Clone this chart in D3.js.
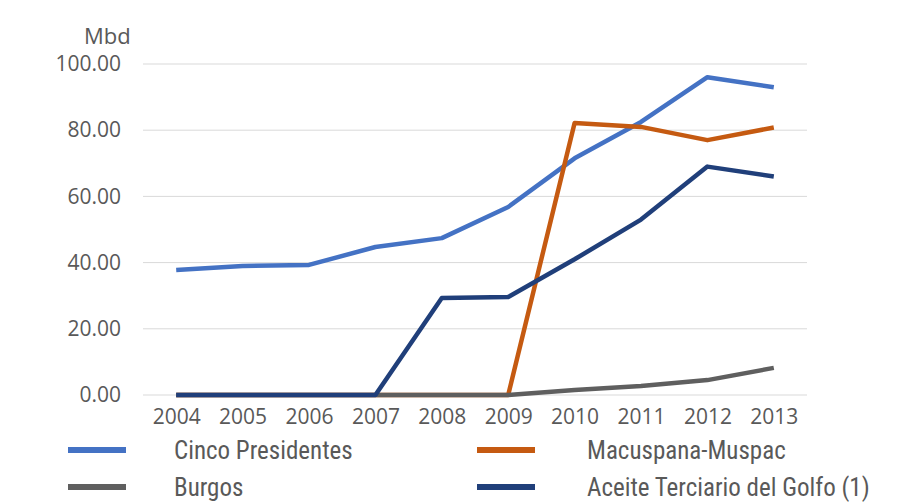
<!DOCTYPE html>
<html>
<head>
<meta charset="utf-8">
<script src="https://cdn.jsdelivr.net/npm/d3@7"></script>
<style>
  body { margin: 0; background: #fff; }
  text { fill: #595959; }
</style>
</head>
<body>
<div id="canvas"></div>
<script>
"use strict";

/* Data */
let years = ["2004", "2005", "2006", "2007", "2008", "2009", "2010", "2011", "2012", "2013"];
let cincoPresidentes = [37.8, 39.0, 39.3, 44.7, 47.4, 56.8, 71.5, 82.5, 96.0, 93.0];
let macuspanaMuspac = [0, 0, 0, 0, 0, 0, 82.2, 81.0, 77.0, 80.8];
let burgos = [0, 0, 0, 0, 0, 0, 1.5, 2.7, 4.5, 8.2];
let aceiteTerciario = [0, 0, 0, 0, 29.3, 29.6, 41.0, 53.0, 69.0, 66.0];
let yTicks = [0, 20, 40, 60, 80, 100];

let seriesNames = ["Cinco Presidentes", "Macuspana-Muspac", "Burgos", "Aceite Terciario del Golfo (1)"];
let seriesValues = [cincoPresidentes, macuspanaMuspac, burgos, aceiteTerciario];
let seriesColors = ["#4472C4", "#C55A11", "#5f5f5f", "#203f7a"];

/* Drawing config */
let svgWidth = 909;
let svgHeight = 504;
let plotLeft = 143;
let plotRight = 807;
let plotTop = 64;
let plotBottom = 395;

let svg = d3.select("#canvas")
  .append("svg")
  .attr("width", svgWidth)
  .attr("height", svgHeight);

let xScale = d3.scalePoint()
  .domain(years)
  .range([plotLeft, plotRight])
  .padding(0.5);

let yScale = d3.scaleLinear()
  .domain([0, 100])
  .range([plotBottom, plotTop]);

/* Gridlines */
svg.append("g")
  .selectAll("line")
  .data(yTicks)
  .enter()
  .append("line")
  .attr("x1", plotLeft)
  .attr("x2", plotRight)
  .attr("y1", function (d) { return yScale(d); })
  .attr("y2", function (d) { return yScale(d); })
  .attr("stroke", "#d9d9d9")
  .attr("stroke-width", 1);

/* Y axis labels */
let yAxis = d3.axisLeft(yScale)
  .tickValues(yTicks)
  .tickSize(0)
  .tickPadding(0)
  .tickFormat(d3.format(".2f"));

let yAxisG = svg.append("g")
  .attr("transform", "translate(121,0)")
  .call(yAxis);
yAxisG.select(".domain").remove();
yAxisG.selectAll("text")
  .attr("font-family", "'Open Sans', sans-serif")
  .attr("font-size", "21px")
  .attr("fill", "#595959");

/* X axis labels */
let xAxis = d3.axisBottom(xScale)
  .tickSize(0)
  .tickPadding(14);

let xAxisG = svg.append("g")
  .attr("transform", "translate(0," + plotBottom + ")")
  .call(xAxis);
xAxisG.select(".domain").remove();
xAxisG.selectAll("text")
  .attr("font-family", "'Open Sans', sans-serif")
  .attr("font-size", "21px")
  .attr("fill", "#595959");

/* Unit label */
svg.append("text")
  .attr("x", 84)
  .attr("y", 44)
  .attr("font-family", "'Open Sans', sans-serif")
  .attr("font-size", "22px")
  .text("Mbd");

/* Lines */
let line = d3.line()
  .x(function (d, i) { return xScale(years[i]); })
  .y(function (d) { return yScale(d); });

for (let i = 0; i < seriesValues.length; i = i + 1) {
  svg.append("path")
    .datum(seriesValues[i])
    .attr("d", line)
    .attr("fill", "none")
    .attr("stroke", seriesColors[i])
    .attr("stroke-width", 4.5)
    .attr("stroke-linejoin", "round");
}

/* Legend */
let legendCols = [68, 477];
let legendText = [174, 587];
let legendRows = [450, 487];

for (let i = 0; i < seriesNames.length; i = i + 1) {
  let col = i % 2;
  let ly = legendRows[Math.floor(i / 2)];

  svg.append("line")
    .attr("x1", legendCols[col])
    .attr("x2", legendCols[col] + 58)
    .attr("y1", ly)
    .attr("y2", ly)
    .attr("stroke", seriesColors[i])
    .attr("stroke-width", 6);

  svg.append("text")
    .attr("x", legendText[col])
    .attr("y", ly)
    .attr("dy", "0.35em")
    .attr("font-family", "'Liberation Sans Narrow', 'Roboto Condensed', sans-serif")
    .attr("font-size", "25px")
    .text(seriesNames[i]);
}
</script>
</body>
</html>
